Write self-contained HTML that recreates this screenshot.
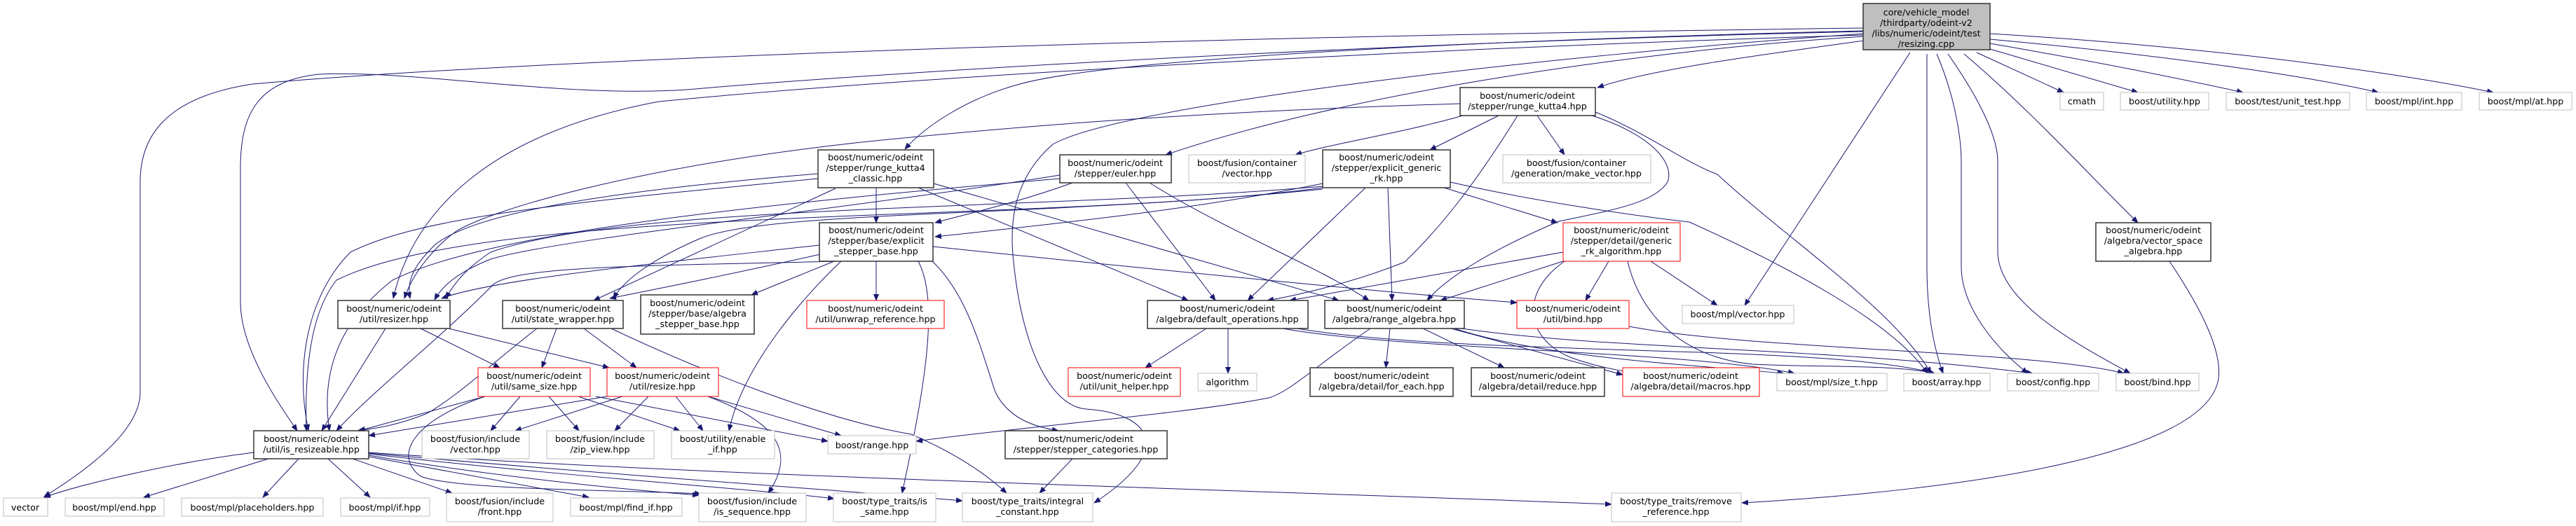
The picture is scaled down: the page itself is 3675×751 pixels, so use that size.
<!DOCTYPE html>
<html><head><meta charset="utf-8"><style>
html,body{margin:0;padding:0;background:#fff;}
svg{display:block;}
text{font-family:"DejaVu Sans","Liberation Sans",sans-serif;font-size:12.7px;fill:#000;text-anchor:middle;}
.e{fill:none;stroke:#191970;stroke-width:1;marker-end:url(#a);}
.b{fill:#fff;stroke:#333;stroke-width:1.5;}
.g{fill:#fff;stroke:#bfbfbf;stroke-width:1;}
.r{fill:#fff;stroke:#ff0000;stroke-width:1;}
</style></head><body>
<svg width="3675" height="751" viewBox="0 0 3675 751" xmlns="http://www.w3.org/2000/svg">
<defs><marker id="a" markerWidth="10" markerHeight="8" refX="9" refY="4" orient="auto" markerUnits="userSpaceOnUse"><path d="M0,0 L10,4 L0,8 Z" fill="#191970"/></marker></defs>

<!-- edges from root -->
<path class="e" d="M2659,40 C1500,55 700,90 360,120 C230,140 200,200 200,260 L200,560 C200,620 110,680 63,709"/>
<path class="e" d="M2659,45 C2000,60 1300,100 980,128 C800,140 600,100 455,106 C370,115 343,160 343,240 L343,431 C343,500 400,580 424,615"/>
<path class="e" d="M2659,50 C2000,70 1300,110 940,145 C700,190 590,300 561,426"/>
<path class="e" d="M2659,44 C2200,55 1600,80 1455,120 C1380,140 1320,180 1291,213"/>
<path class="e" d="M2659,52 C2300,75 1900,140 1663,221"/>
<path class="e" d="M2659,58 C2500,80 2350,100 2279,125"/>
<path class="e" d="M2659,48 C2200,80 1600,150 1502,206 C1440,260 1440,330 1447,383 C1460,500 1500,580 1549,584 C1640,590 1680,640 1561,718"/>
<path class="e" d="M2725,75 L2489,436"/>
<path class="e" d="M2749,77 L2749,380 C2749,450 2760,500 2772,533"/>
<path class="e" d="M2763,77 C2790,140 2798,200 2798,230 L2798,380 C2798,440 2850,500 2893,533"/>
<path class="e" d="M2779,77 C2830,150 2850,200 2850,230 L2850,359 C2850,430 2960,490 3039,533"/>
<path class="e" d="M2802,77 C2900,160 2990,260 3050,318"/>
<path class="e" d="M2820,75 L2944,132"/>
<path class="e" d="M2839,70 L3050,132"/>
<path class="e" d="M2839,62 C3000,90 3100,110 3200,132"/>
<path class="e" d="M2839,56 C3100,80 3300,110 3393,132"/>
<path class="e" d="M2839,48 C3200,70 3450,110 3557,132"/>

<!-- runge_kutta4 -->
<path class="e" d="M2083,148 C1700,160 1450,180 1220,204 C900,240 700,300 651,330 C610,360 585,400 577,426"/>
<path class="e" d="M2087,165 C2000,190 1900,205 1848,221"/>
<path class="e" d="M2138,165 L2040,214"/>
<path class="e" d="M2193,165 L2232,221"/>
<path class="e" d="M2165,165 C2100,270 2050,330 2004,374 C1940,400 1860,420 1808,429"/>
<path class="e" d="M2271,165 C2350,190 2390,230 2379,260 C2360,290 2300,300 2224,316 C2120,360 2060,400 2036,429"/>
<path class="e" d="M2276,160 C2350,190 2400,230 2450,249 C2560,350 2700,440 2755,533"/>

<!-- runge_kutta4_classic -->
<path class="e" d="M1250,268 L1250,318"/>
<path class="e" d="M1167,248 C900,270 680,300 620,350 C590,380 580,400 585,426"/>
<path class="e" d="M1167,255 C800,290 600,310 500,360 C440,420 420,520 440,615"/>
<path class="e" d="M1192,269 L847,429"/>
<path class="e" d="M1310,268 L1695,429"/>
<path class="e" d="M1332,262 L1910,429"/>

<!-- euler -->
<path class="e" d="M1530,261 C1450,290 1380,305 1334,318"/>
<path class="e" d="M1512,250 C1200,300 800,340 700,370 C650,390 630,410 620,428"/>
<path class="e" d="M1512,255 C1100,290 700,330 560,400 C470,470 460,550 470,615"/>
<path class="e" d="M1606,261 L1734,429"/>
<path class="e" d="M1640,261 C1750,330 1880,380 1953,429"/>

<!-- explicit_generic_rk -->
<path class="e" d="M1887,262 C1700,300 1500,320 1334,338"/>
<path class="e" d="M1887,266 C1500,300 900,290 700,360 C670,380 650,400 636,426"/>
<path class="e" d="M1887,270 C1500,310 1100,300 1000,340 C930,370 890,400 875,426"/>
<path class="e" d="M1887,268 C1500,320 700,290 480,400 C440,450 435,540 437,615"/>
<path class="e" d="M1948,268 L1780,429"/>
<path class="e" d="M1980,268 L1986,429"/>
<path class="e" d="M2060,268 L2222,318"/>
<path class="e" d="M2069,260 C2200,290 2350,310 2410,317 C2550,380 2700,460 2750,533"/>

<!-- explicit_stepper_base -->
<path class="e" d="M1169,350 C900,380 700,400 630,426"/>
<path class="e" d="M1175,362 C1050,390 950,410 870,426"/>
<path class="e" d="M1190,373 L1072,421"/>
<path class="e" d="M1250,373 L1250,429"/>
<path class="e" d="M1197,373 C900,380 720,380 700,410 C620,490 530,560 480,615"/>
<path class="e" d="M1200,373 C1150,420 1060,520 1040,615"/>
<path class="e" d="M1310,373 C1340,430 1320,550 1287,704"/>
<path class="e" d="M1330,373 C1380,420 1400,500 1420,560 C1440,600 1480,610 1510,615"/>
<path class="e" d="M1331,352 C1600,380 2000,420 2164,432"/>

<!-- resizer -->
<path class="e" d="M550,469 L459,615"/>
<path class="e" d="M600,469 L713,525"/>
<path class="e" d="M640,469 L869,525"/>

<!-- state_wrapper -->
<path class="e" d="M766,469 C700,520 660,560 610,590 C560,610 530,612 510,615"/>
<path class="e" d="M794,469 L773,525"/>
<path class="e" d="M833,469 L908,525"/>
<path class="e" d="M872,469 C1000,530 1180,600 1300,620 C1370,650 1410,680 1436,704"/>

<!-- same_size -->
<path class="e" d="M692,566 L512,615"/>
<path class="e" d="M742,566 L700,615"/>
<path class="e" d="M783,566 L826,615"/>
<path class="e" d="M825,566 L970,615"/>
<path class="e" d="M850,566 L1181,630"/>
<path class="e" d="M692,566 C590,600 560,650 600,680 C650,700 900,700 1000,705"/>

<!-- resize -->
<path class="e" d="M866,566 L526,622"/>
<path class="e" d="M888,566 L735,615"/>
<path class="e" d="M925,566 L877,615"/>
<path class="e" d="M964,566 L1003,615"/>
<path class="e" d="M1010,566 L1200,622"/>
<path class="e" d="M1010,566 C1100,600 1140,640 1096,704"/>

<!-- is_resizeable -->
<path class="e" d="M362,646 C250,660 120,690 63,710"/>
<path class="e" d="M383,655 L205,710"/>
<path class="e" d="M426,655 L375,710"/>
<path class="e" d="M468,655 L528,710"/>
<path class="e" d="M503,655 L645,704"/>
<path class="e" d="M526,652 L840,710"/>
<path class="e" d="M526,650 C700,680 900,700 997,707"/>
<path class="e" d="M526,648 C800,680 1100,700 1190,712"/>
<path class="e" d="M526,647 C900,680 1200,700 1373,715"/>
<path class="e" d="M526,646 C1000,680 1800,700 2299,720"/>

<!-- default ops / range algebra -->
<path class="e" d="M1721,469 L1634,525"/>
<path class="e" d="M1752,469 L1752,533"/>
<path class="e" d="M1830,469 C2000,500 2400,500 2560,533"/>
<path class="e" d="M1850,469 C2100,510 2600,490 2760,533"/>
<path class="e" d="M1983,469 L1977,525"/>
<path class="e" d="M2030,469 L2146,525"/>
<path class="e" d="M2070,469 L2315,535"/>
<path class="e" d="M1955,469 C1880,520 1840,560 1810,568 C1700,590 1450,610 1307,630"/>
<path class="e" d="M2075,469 C2200,510 2400,520 2545,533"/>
<path class="e" d="M2085,469 C2300,500 2600,495 2900,533"/>

<!-- generic_rk_algorithm -->
<path class="e" d="M2230,360 L1840,429"/>
<path class="e" d="M2230,373 L2055,429"/>
<path class="e" d="M2295,373 L2262,429"/>
<path class="e" d="M2355,373 L2450,436"/>
<path class="e" d="M2240,368 C2170,410 2170,480 2240,510 C2280,525 2310,528 2330,533"/>
<path class="e" d="M2322,373 C2340,450 2400,510 2500,520 C2600,525 2700,520 2760,533"/>

<!-- misc -->
<path class="e" d="M2324,466 C2500,500 2900,500 3030,533"/>
<path class="e" d="M1530,655 L1483,704"/>
<path class="e" d="M3095,373 C3140,440 3170,500 3165,540 C3150,650 2800,700 2485,718"/>

<!-- nodes -->
<rect class="b" x="2658" y="5" width="181" height="66" style="fill:#bfbfbf"/>
<text x="2748" y="22">core/vehicle_model</text><text x="2748" y="37">/thirdparty/odeint-v2</text><text x="2748" y="52">/libs/numeric/odeint/test</text><text x="2748" y="67">/resizing.cpp</text>

<rect class="g" x="2939" y="132" width="62" height="25"/><text x="2970" y="149">cmath</text>
<rect class="g" x="3025" y="132" width="126" height="25"/><text x="3088" y="149">boost/utility.hpp</text>
<rect class="g" x="3176" y="132" width="176" height="25"/><text x="3264" y="149">boost/test/unit_test.hpp</text>
<rect class="g" x="3376" y="132" width="136" height="25"/><text x="3444" y="149">boost/mpl/int.hpp</text>
<rect class="g" x="3537" y="132" width="132" height="25"/><text x="3603" y="149">boost/mpl/at.hpp</text>

<rect class="b" x="2083" y="125" width="193" height="40"/><text x="2179" y="141">boost/numeric/odeint</text><text x="2179" y="156">/stepper/runge_kutta4.hpp</text>
<rect class="b" x="1167" y="214" width="165" height="54"/><text x="1249" y="229">boost/numeric/odeint</text><text x="1249" y="244">/stepper/runge_kutta4</text><text x="1249" y="259">_classic.hpp</text>
<rect class="b" x="1512" y="221" width="159" height="40"/><text x="1591" y="237">boost/numeric/odeint</text><text x="1591" y="252">/stepper/euler.hpp</text>
<rect class="g" x="1696" y="221" width="166" height="40"/><text x="1779" y="237">boost/fusion/container</text><text x="1779" y="252">/vector.hpp</text>
<rect class="b" x="1887" y="214" width="182" height="54"/><text x="1978" y="229">boost/numeric/odeint</text><text x="1978" y="244">/stepper/explicit_generic</text><text x="1978" y="259">_rk.hpp</text>
<rect class="g" x="2144" y="221" width="211" height="40"/><text x="2249" y="237">boost/fusion/container</text><text x="2249" y="252">/generation/make_vector.hpp</text>

<rect class="b" x="1169" y="318" width="162" height="55"/><text x="1250" y="333">boost/numeric/odeint</text><text x="1250" y="348">/stepper/base/explicit</text><text x="1250" y="363">_stepper_base.hpp</text>
<rect class="r" x="2230" y="318" width="167" height="55"/><text x="2313" y="333">boost/numeric/odeint</text><text x="2313" y="348">/stepper/detail/generic</text><text x="2313" y="363">_rk_algorithm.hpp</text>
<rect class="b" x="2990" y="318" width="164" height="55"/><text x="3072" y="333">boost/numeric/odeint</text><text x="3072" y="348">/algebra/vector_space</text><text x="3072" y="363">_algebra.hpp</text>

<rect class="b" x="482" y="429" width="160" height="40"/><text x="562" y="445">boost/numeric/odeint</text><text x="562" y="460">/util/resizer.hpp</text>
<rect class="b" x="717" y="429" width="172" height="40"/><text x="803" y="445">boost/numeric/odeint</text><text x="803" y="460">/util/state_wrapper.hpp</text>
<rect class="b" x="914" y="421" width="162" height="56"/><text x="995" y="437">boost/numeric/odeint</text><text x="995" y="452">/stepper/base/algebra</text><text x="995" y="467">_stepper_base.hpp</text>
<rect class="r" x="1151" y="429" width="196" height="40"/><text x="1249" y="445">boost/numeric/odeint</text><text x="1249" y="460">/util/unwrap_reference.hpp</text>
<rect class="b" x="1637" y="429" width="229" height="40"/><text x="1751" y="445">boost/numeric/odeint</text><text x="1751" y="460">/algebra/default_operations.hpp</text>
<rect class="b" x="1890" y="429" width="199" height="40"/><text x="1989" y="445">boost/numeric/odeint</text><text x="1989" y="460">/algebra/range_algebra.hpp</text>
<rect class="r" x="2164" y="429" width="160" height="40"/><text x="2244" y="445">boost/numeric/odeint</text><text x="2244" y="460">/util/bind.hpp</text>
<rect class="g" x="2400" y="436" width="159" height="26"/><text x="2479" y="453">boost/mpl/vector.hpp</text>

<rect class="r" x="682" y="525" width="160" height="41"/><text x="762" y="541">boost/numeric/odeint</text><text x="762" y="556">/util/same_size.hpp</text>
<rect class="r" x="866" y="525" width="159" height="41"/><text x="945" y="541">boost/numeric/odeint</text><text x="945" y="556">/util/resize.hpp</text>
<rect class="r" x="1524" y="525" width="160" height="41"/><text x="1604" y="541">boost/numeric/odeint</text><text x="1604" y="556">/util/unit_helper.hpp</text>
<rect class="g" x="1709" y="533" width="84" height="25"/><text x="1751" y="550">algorithm</text>
<rect class="b" x="1869" y="525" width="204" height="41"/><text x="1971" y="541">boost/numeric/odeint</text><text x="1971" y="556">/algebra/detail/for_each.hpp</text>
<rect class="b" x="2099" y="525" width="190" height="41"/><text x="2194" y="541">boost/numeric/odeint</text><text x="2194" y="556">/algebra/detail/reduce.hpp</text>
<rect class="r" x="2315" y="525" width="195" height="41"/><text x="2412" y="541">boost/numeric/odeint</text><text x="2412" y="556">/algebra/detail/macros.hpp</text>
<rect class="g" x="2535" y="533" width="157" height="25"/><text x="2613" y="550">boost/mpl/size_t.hpp</text>
<rect class="g" x="2716" y="533" width="123" height="25"/><text x="2777" y="550">boost/array.hpp</text>
<rect class="g" x="2864" y="533" width="130" height="25"/><text x="2929" y="550">boost/config.hpp</text>
<rect class="g" x="3019" y="533" width="118" height="25"/><text x="3078" y="550">boost/bind.hpp</text>

<rect class="b" x="362" y="615" width="164" height="40"/><text x="444" y="631">boost/numeric/odeint</text><text x="444" y="646">/util/is_resizeable.hpp</text>
<rect class="g" x="602" y="615" width="153" height="40"/><text x="678" y="631">boost/fusion/include</text><text x="678" y="646">/vector.hpp</text>
<rect class="g" x="780" y="615" width="153" height="40"/><text x="856" y="631">boost/fusion/include</text><text x="856" y="646">/zip_view.hpp</text>
<rect class="g" x="958" y="615" width="147" height="40"/><text x="1031" y="631">boost/utility/enable</text><text x="1031" y="646">_if.hpp</text>
<rect class="g" x="1181" y="622" width="126" height="26"/><text x="1244" y="640">boost/range.hpp</text>
<rect class="b" x="1434" y="615" width="231" height="40"/><text x="1549" y="631">boost/numeric/odeint</text><text x="1549" y="646">/stepper/stepper_categories.hpp</text>

<rect class="g" x="5" y="711" width="63" height="26"/><text x="36" y="729">vector</text>
<rect class="g" x="93" y="711" width="141" height="26"/><text x="163" y="729">boost/mpl/end.hpp</text>
<rect class="g" x="259" y="711" width="202" height="26"/><text x="360" y="729">boost/mpl/placeholders.hpp</text>
<rect class="g" x="486" y="711" width="127" height="26"/><text x="549" y="729">boost/mpl/if.hpp</text>
<rect class="g" x="637" y="704" width="152" height="41"/><text x="713" y="720">boost/fusion/include</text><text x="713" y="735">/front.hpp</text>
<rect class="g" x="814" y="711" width="159" height="26"/><text x="893" y="729">boost/mpl/find_if.hpp</text>
<rect class="g" x="997" y="704" width="153" height="41"/><text x="1073" y="720">boost/fusion/include</text><text x="1073" y="735">/is_sequence.hpp</text>
<rect class="g" x="1189" y="704" width="146" height="41"/><text x="1262" y="720">boost/type_traits/is</text><text x="1262" y="735">_same.hpp</text>
<rect class="g" x="1373" y="704" width="186" height="41"/><text x="1466" y="720">boost/type_traits/integral</text><text x="1466" y="735">_constant.hpp</text>
<rect class="g" x="2299" y="704" width="185" height="41"/><text x="2391" y="720">boost/type_traits/remove</text><text x="2391" y="735">_reference.hpp</text>
</svg>
</body></html>
